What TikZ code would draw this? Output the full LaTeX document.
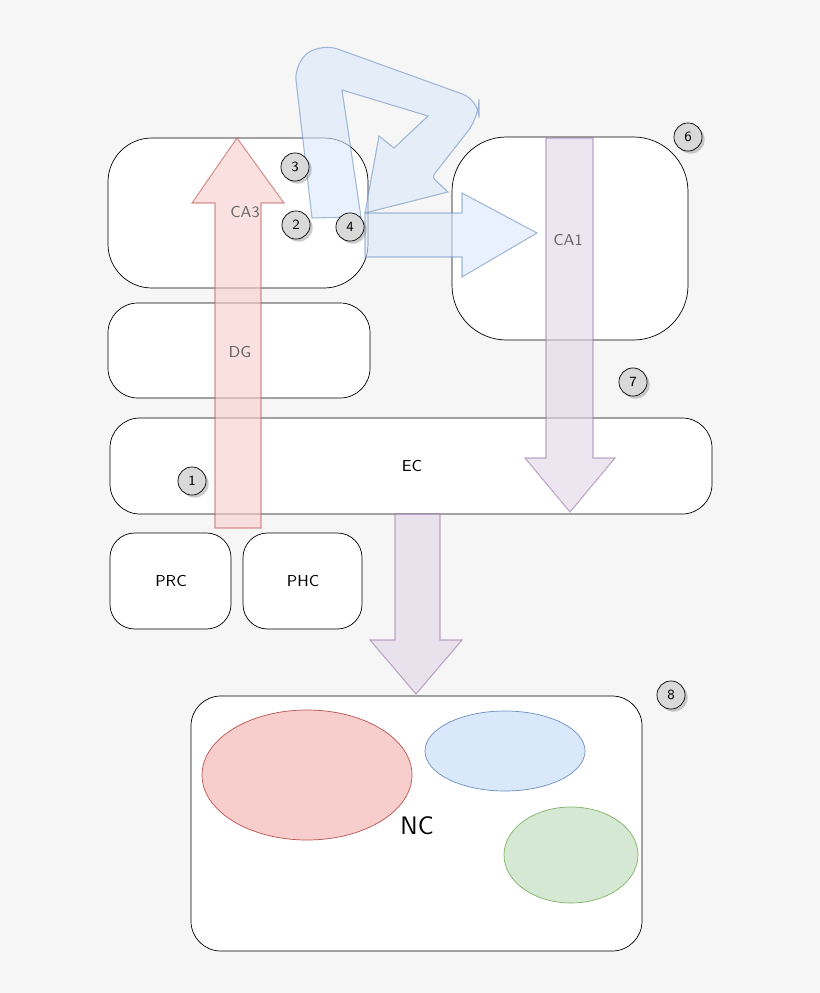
\documentclass[tikz,border=0pt]{standalone}
\usepackage{tikz}
\usetikzlibrary{shadows}
\definecolor{bg}{HTML}{F6F6F6}
\definecolor{redf}{HTML}{F8CECC}
\definecolor{redd}{HTML}{B85450}
\definecolor{bluef}{HTML}{DAE8FC}
\definecolor{blued}{HTML}{6C8EBF}
\definecolor{greenf}{HTML}{D5E8D4}
\definecolor{greend}{HTML}{82B366}
\definecolor{purpf}{HTML}{E1D5E7}
\definecolor{purpd}{HTML}{9673A6}
\begin{document}
\begin{tikzpicture}[x=0.02cm,y=-0.02cm,
	region/.style={draw=black,fill=white,rounded corners=25pt},
	stepmark/.style={circle,draw=black,fill=gray!30,minimum size=16pt,inner sep=0pt,font=\sffamily\footnotesize,drop shadow={shadow xshift=1.5pt,shadow yshift=-1.5pt,opacity=0.4}},
	lbl/.style={font=\sffamily\small,text=gray!80!black},
	flow/.style={opacity=0.6,line width=0.6pt}]
	\fill [bg] (0,0) rectangle (820,993);
	\useasboundingbox (0,0) rectangle (820,993);
	% regions
	\draw [region] (108,138) rectangle (368,288);
	\draw [region,rounded corners=17pt] (108,303) rectangle (370,398);
	\draw [region,rounded corners=17pt] (110,418) rectangle (712,514);
	\draw [region,rounded corners=14pt] (110,533) rectangle (231,629);
	\draw [region,rounded corners=14pt] (243,533) rectangle (362,629);
	\draw [region,rounded corners=31pt] (452,137) rectangle (688,340);
	\draw [region,rounded corners=17pt] (191,696) rectangle (642,951);
	\node (ec) [font=\sffamily\small] at (412,466) {EC};
	\node (prc) [font=\sffamily\small] at (171,581) {PRC};
	\node (phc) [font=\sffamily\small] at (303,581) {PHC};
	% cortex
	\draw [fill=redf,draw=redd] (307,775) ellipse (105 and 65);
	\draw [fill=bluef,draw=blued] (505,751) ellipse (80 and 40);
	\draw [fill=greenf,draw=greend] (571,855) ellipse (67 and 48);
	\node (nc) [font=\sffamily\Large] at (417,826) {NC};
	% pathways
	\draw [flow,fill=redf,draw=redd] (215,528) -- (215,203) -- (192,203) -- (237,138) -- (284,203) -- (261,203) -- (261,528) -- cycle;
	\draw [flow,fill=purpf,draw=purpd] (546,138) -- (546,458) -- (525,458) -- (570,512) -- (615,458) -- (593,458) -- (593,138) -- cycle;
	\draw [flow,fill=purpf,draw=purpd] (395,514) -- (395,640) -- (370,640) -- (416,694) -- (462,640) -- (440,640) -- (440,514) -- cycle;
	\draw [flow,fill=bluef,draw=blued] (365,213) -- (462,213) -- (462,193) -- (537,233) -- (462,277) -- (462,257) -- (365,257) -- cycle;
	\draw [flow,fill=bluef,draw=blued] (312,218) [rounded corners=10pt] -- (294,63) -- (321,43) -- (479,100) -- (479,117) [rounded corners=2pt] -- (432,177) [sharp corners] -- (448,192) -- (365,213) -- (379,136) -- (394,148) -- (428,116) -- (342,90) -- (361,217) -- cycle;
	\node (ca3) [lbl] at (245,212) {CA3};
	\node (dg) [lbl] at (240,352) {DG};
	\node (ca1) [lbl] at (568,240) {CA1};
	% steps
	\node (s1) [stepmark] at (192,481) {1};
	\node (s2) [stepmark] at (296,225) {2};
	\node (s3) [stepmark] at (295,167) {3};
	\node (s4) [stepmark] at (350,227) {4};
	\node (s6) [stepmark] at (688,137) {6};
	\node (s7) [stepmark] at (633,382) {7};
	\node (s8) [stepmark] at (671,695) {8};
\end{tikzpicture}
\end{document}
